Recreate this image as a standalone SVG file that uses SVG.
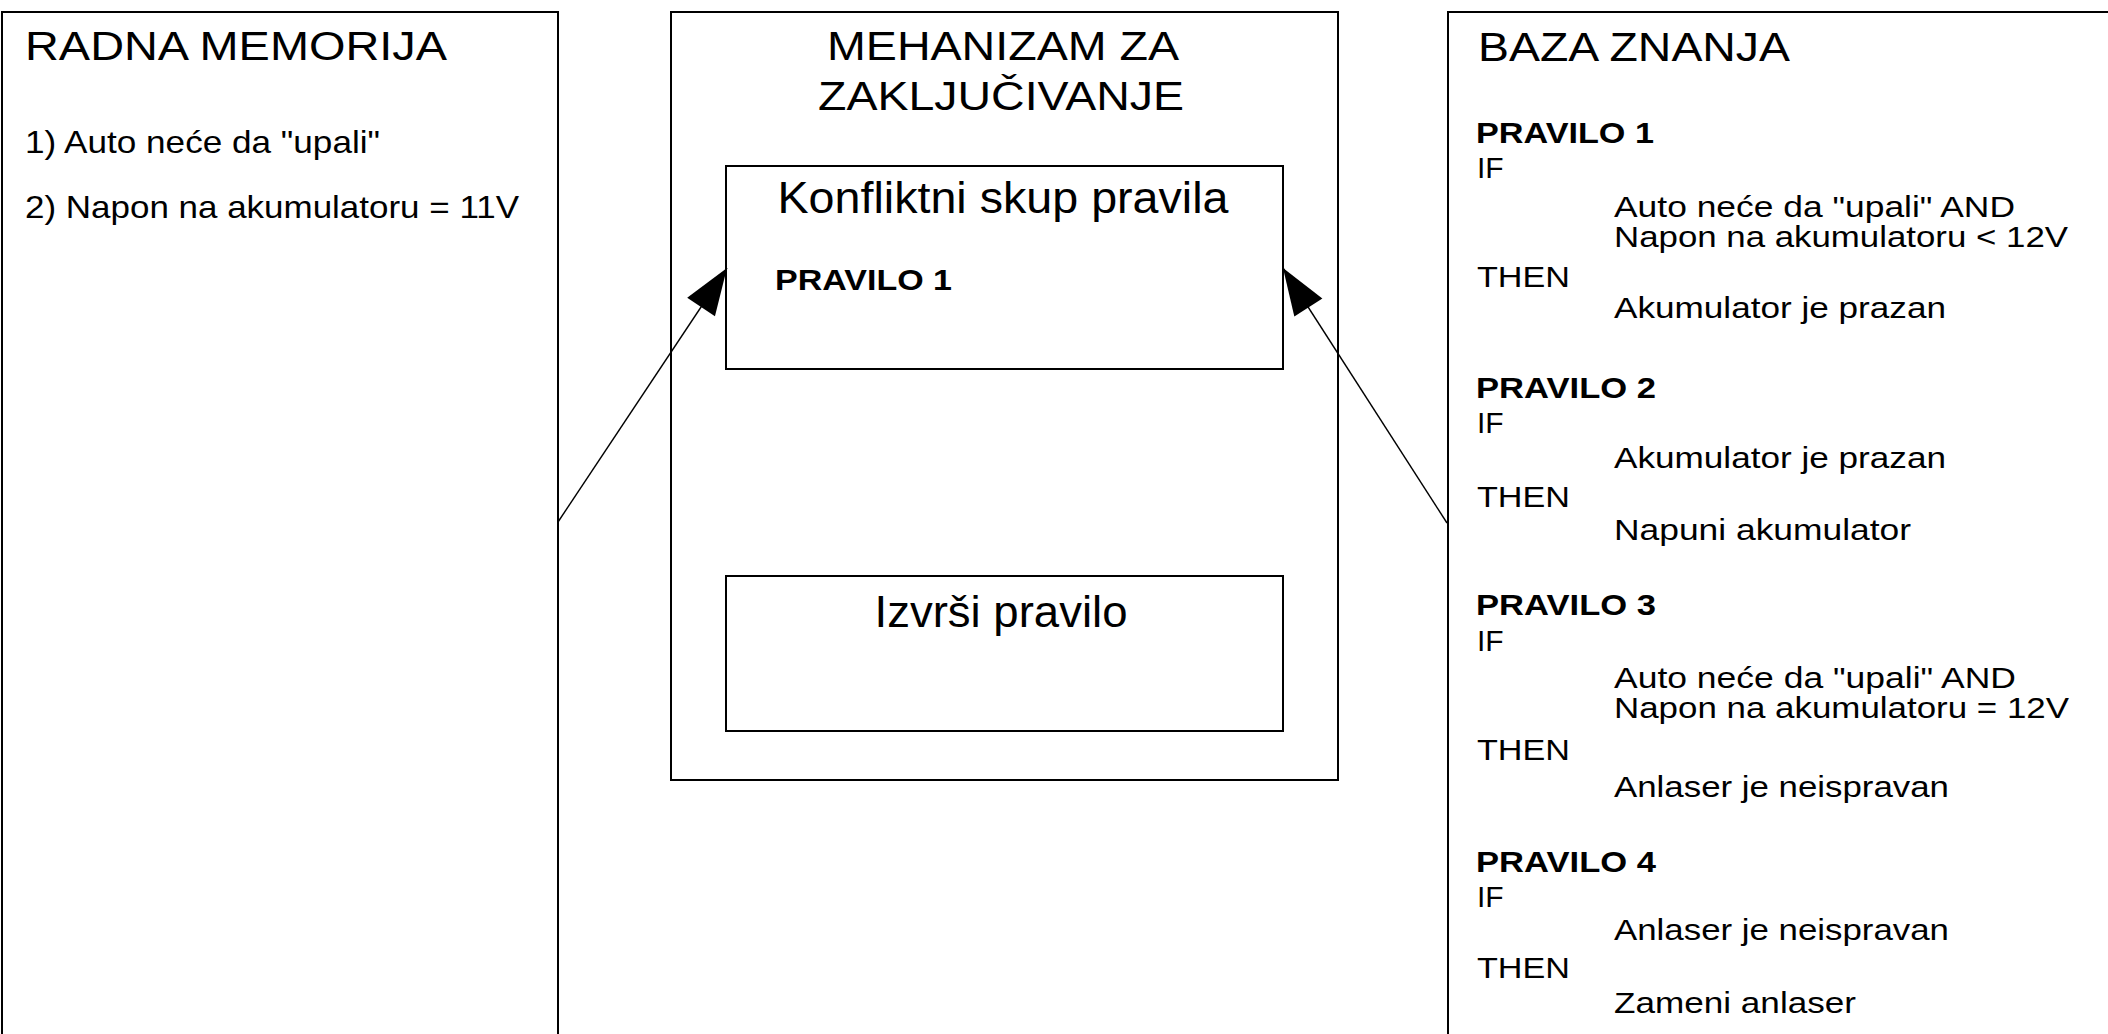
<svg xmlns="http://www.w3.org/2000/svg" width="2108" height="1034" viewBox="0 0 2108 1034">
<style>
text{font-family:"Liberation Sans",Arial,sans-serif;fill:#000}
.box{fill:#fff;stroke:#000;stroke-width:2}
.title{font-size:40px}
.big{font-size:44px}
.item{font-size:32px}
.rule{font-size:30px;font-weight:bold}
.body{font-size:30px}
.conn{stroke:#000;stroke-width:1.4;fill:none}
</style>
<defs>
<marker id="ah" markerUnits="userSpaceOnUse" markerWidth="50" markerHeight="40" refX="0" refY="0" viewBox="-46 -18 48 36" orient="auto">
<path d="M0,0 L-45,-16 L-45,16 Z" fill="#000"/>
</marker>
</defs>
<rect width="2108" height="1034" fill="#fff"/>
<g id="radna-memorija">
<rect class="box" x="2" y="12" width="556" height="1040"/>
<text class="title" x="25" y="60" textLength="422" lengthAdjust="spacingAndGlyphs">RADNA MEMORIJA</text>
<text class="item" x="25" y="153" textLength="355" lengthAdjust="spacingAndGlyphs">1) Auto neće da "upali"</text>
<text class="item" x="25" y="218" textLength="494" lengthAdjust="spacingAndGlyphs">2) Napon na akumulatoru = 11V</text>
</g>
<g id="mehanizam">
<rect class="box" x="671" y="12" width="667" height="768"/>
<text class="title" x="1003" y="60" text-anchor="middle" textLength="352" lengthAdjust="spacingAndGlyphs">MEHANIZAM ZA</text>
<text class="title" x="1001" y="110" text-anchor="middle" textLength="366" lengthAdjust="spacingAndGlyphs">ZAKLJUČIVANJE</text>
</g>
<g id="konfliktni-skup">
<rect class="box" x="726" y="166" width="557" height="203"/>
<text class="big" x="1003" y="213" text-anchor="middle" textLength="451" lengthAdjust="spacingAndGlyphs">Konfliktni skup pravila</text>
<text class="rule" x="775" y="290" textLength="177" lengthAdjust="spacingAndGlyphs">PRAVILO 1</text>
</g>
<g id="izvrsi-pravilo">
<rect class="box" x="726" y="576" width="557" height="155"/>
<text class="big" x="1001" y="627" text-anchor="middle" textLength="253" lengthAdjust="spacingAndGlyphs">Izvrši pravilo</text>
</g>
<g id="baza-znanja">
<rect class="box" x="1448" y="12" width="700" height="1040"/>
<text class="title" x="1478" y="61" textLength="312" lengthAdjust="spacingAndGlyphs">BAZA ZNANJA</text>
<text class="rule" x="1476" y="143" textLength="178" lengthAdjust="spacingAndGlyphs">PRAVILO 1</text>
<text class="body" x="1477" y="178">IF</text>
<text class="body" x="1614" y="217" textLength="401" lengthAdjust="spacingAndGlyphs">Auto neće da "upali" AND</text>
<text class="body" x="1614" y="247" textLength="454" lengthAdjust="spacingAndGlyphs">Napon na akumulatoru &lt; 12V</text>
<text class="body" x="1477" y="287" textLength="93" lengthAdjust="spacingAndGlyphs">THEN</text>
<text class="body" x="1614" y="318" textLength="332" lengthAdjust="spacingAndGlyphs">Akumulator je prazan</text>
<text class="rule" x="1476" y="398" textLength="180" lengthAdjust="spacingAndGlyphs">PRAVILO 2</text>
<text class="body" x="1477" y="433">IF</text>
<text class="body" x="1614" y="468" textLength="332" lengthAdjust="spacingAndGlyphs">Akumulator je prazan</text>
<text class="body" x="1477" y="507" textLength="93" lengthAdjust="spacingAndGlyphs">THEN</text>
<text class="body" x="1614" y="540" textLength="297" lengthAdjust="spacingAndGlyphs">Napuni akumulator</text>
<text class="rule" x="1476" y="615" textLength="180" lengthAdjust="spacingAndGlyphs">PRAVILO 3</text>
<text class="body" x="1477" y="651">IF</text>
<text class="body" x="1614" y="688" textLength="402" lengthAdjust="spacingAndGlyphs">Auto neće da "upali" AND</text>
<text class="body" x="1614" y="718" textLength="455" lengthAdjust="spacingAndGlyphs">Napon na akumulatoru = 12V</text>
<text class="body" x="1477" y="760" textLength="93" lengthAdjust="spacingAndGlyphs">THEN</text>
<text class="body" x="1614" y="797" textLength="335" lengthAdjust="spacingAndGlyphs">Anlaser je neispravan</text>
<text class="rule" x="1476" y="872" textLength="180" lengthAdjust="spacingAndGlyphs">PRAVILO 4</text>
<text class="body" x="1477" y="907">IF</text>
<text class="body" x="1614" y="940" textLength="335" lengthAdjust="spacingAndGlyphs">Anlaser je neispravan</text>
<text class="body" x="1477" y="978" textLength="93" lengthAdjust="spacingAndGlyphs">THEN</text>
<text class="body" x="1614" y="1013" textLength="242" lengthAdjust="spacingAndGlyphs">Zameni anlaser</text>
</g>
<g id="connectors">
<line class="conn" x1="558" y1="522" x2="727" y2="268" marker-end="url(#ah)"/>
<line class="conn" x1="1447" y1="523" x2="1283" y2="268" marker-end="url(#ah)"/>
</g>
</svg>
